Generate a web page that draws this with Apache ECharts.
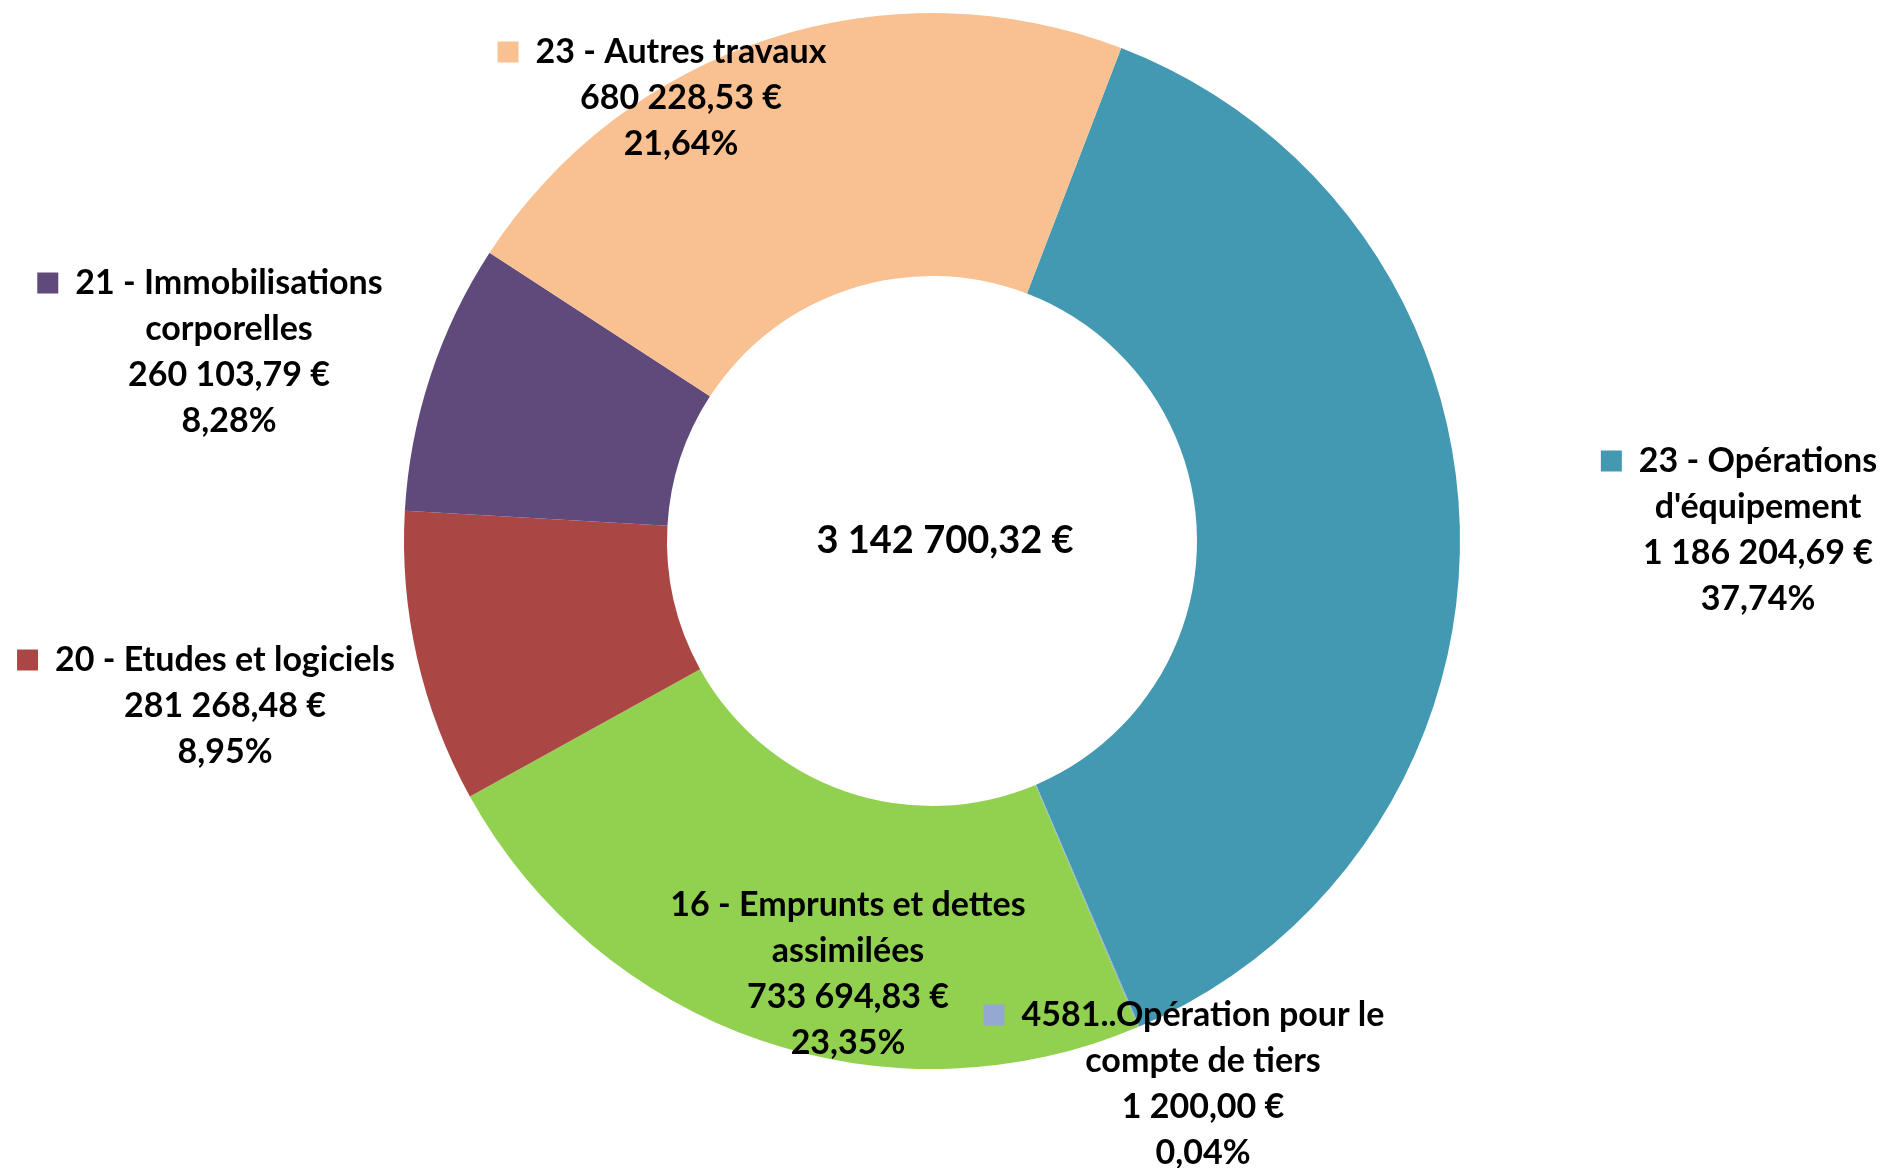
<!DOCTYPE html>
<html>
<head>
<meta charset="utf-8">
<script src="https://cdn.jsdelivr.net/npm/echarts@6/dist/echarts.min.js"></script>
<style>
  html, body { margin: 0; padding: 0; background: #fff; }
  #chart { width: 1883px; height: 1168px; }
</style>
</head>
<body>
<div id="chart"></div>
<script>
// slices, clockwise from the top-right boundary
const names = [
  "23 - Opérations\nd'équipement",
  '4581..Opération pour le\ncompte de tiers',
  '16 - Emprunts et dettes\nassimilées',
  '20 - Etudes et logiciels',
  '21 - Immobilisations\ncorporelles',
  '23 - Autres travaux'
]
const amounts = [1186204.69, 1200.0, 733694.83, 281268.48, 260103.79, 680228.53]
const colors = ['#4399B1', '#95A8D1', '#92D050', '#AA4644', '#604A7B', '#F9C091']

// label block centres (layout only)
const labelPos = [
  [1758, 530],
  [1203, 1084],
  [848, 974],
  [225, 706],
  [229, 352],
  [681, 98]
]

const total = amounts.reduce((s, v) => s + v, 0)

function fmtEuro(v) {
  const [int, dec] = v.toFixed(2).split('.')
  return int.replace(/\B(?=(\d{3})+(?!\d))/g, ' ') + ',' + dec + ' €'
}
function fmtPct(v) {
  return (v / total * 100).toFixed(2).replace('.', ',') + '%'
}

const FONT = 'Lato'
const rich = {
  t: { fontFamily: FONT, fontWeight: 'bold', fontSize: 34, color: '#000', lineHeight: 46 },
  gap: { width: 17 },
  pad: { width: 38 }
}
colors.forEach((c, i) => {
  rich['sq' + i] = { width: 21, height: 21, backgroundColor: c }
})

const chart = echarts.init(document.getElementById('chart'))

chart.setOption({
  animation: false,
  title: {
    text: fmtEuro(total),
    left: 940,
    top: 536,
    textAlign: 'center',
    textVerticalAlign: 'middle',
    textStyle: { fontFamily: FONT, fontWeight: 'bold', fontSize: 38, color: '#000' }
  },
  series: [
    {
      type: 'pie',
      center: [932, 541],
      radius: [265, 528],
      startAngle: 69,
      clockwise: true,
      avoidLabelOverlap: false,
      data: amounts.map((v, i) => ({
        name: names[i],
        value: v,
        itemStyle: { color: colors[i] }
      })),
      itemStyle: { borderWidth: 0 },
      labelLine: { show: false },
      label: {
        show: true,
        position: 'outside',
        align: 'center',
        rich,
        formatter: (p) => {
          const lines = p.name.split('\n')
          const out = ['{sq' + p.dataIndex + '|}{gap|}{t|' + lines[0] + '}{pad|}']
          lines.slice(1).forEach((l) => out.push('{t|' + l + '}'))
          out.push('{t|' + fmtEuro(p.value) + '}')
          out.push('{t|' + fmtPct(p.value) + '}')
          return out.join('\n')
        }
      },
      labelLayout: (params) => ({
        x: labelPos[params.dataIndex][0],
        y: labelPos[params.dataIndex][1],
        align: 'center',
        verticalAlign: 'middle'
      })
    }
  ]
})
</script>
</body>
</html>
